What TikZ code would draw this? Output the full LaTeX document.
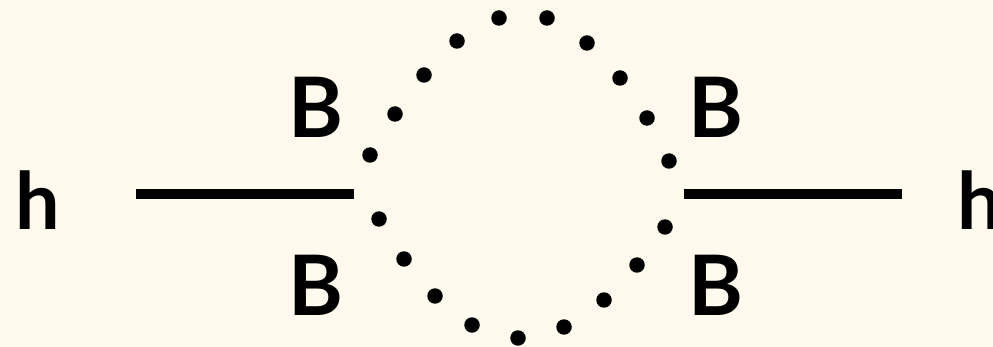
\documentclass[tikz,border=0pt]{standalone}
\usepackage{fontspec}
\setmainfont{Lato}
\usepackage{xcolor}
\usetikzlibrary{positioning}
\definecolor{paper}{HTML}{FFFAED}

\begin{document}
\begin{tikzpicture}[x=0.02cm, y=-0.02cm,
    field/.style={inner sep=0pt, font=\fontsize{45}{45}\selectfont\bfseries},
    boson/.style={inner sep=0pt, font=\fontsize{47.5}{47.5}\selectfont\bfseries},
    prop/.style={line width=0.2cm}]
\fill[paper] (0,0) rectangle (993,347);
\useasboundingbox (0,0) rectangle (993,347);
% external legs
\node[field] (hin) at (37.5,200) {h};
\node[field] (hout) at (980,200) {h};
\coordinate (vin0) at (136,194.5);
\coordinate (vin) at (354,194.5);
\coordinate (vout) at (684,194.5);
\coordinate (vout0) at (902,194.5);
\draw[prop] (vin0) -- (vin);
\draw[prop] (vout) -- (vout0);
% loop labels
\node[boson] (b1) at (316,107) {B};
\node[boson] (b2) at (316,285) {B};
\node[boson] (b3) at (716,107) {B};
\node[boson] (b4) at (716,285) {B};
% dotted loop
\foreach \x/\y in {
    370/155, 395/114, 424/75, 457/41, 499/18,
    547/18, 587/43, 620/78, 647/118, 669/161,
    665/227, 637/265, 604/300, 564/327, 518/338,
    472/325, 435/296, 404/259, 379/219
} {
    \fill (\x,\y) circle[radius=0.155cm];
}
\end{tikzpicture}
\end{document}
